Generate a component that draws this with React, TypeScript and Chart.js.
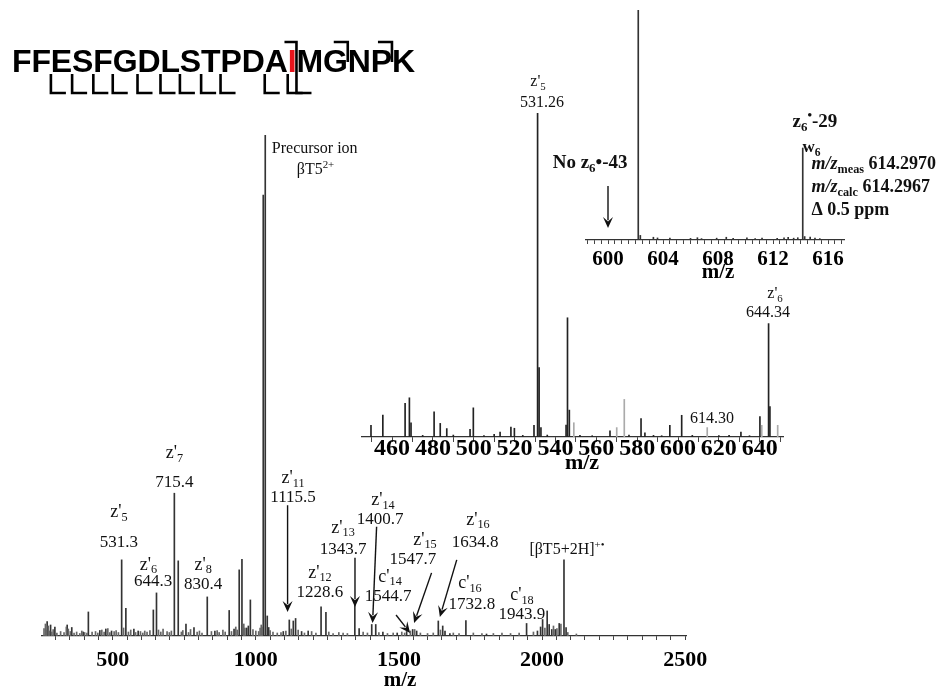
import React, { useEffect, useRef } from 'react';
import { Chart, registerables } from 'chart.js';
Chart.register(...registerables);

const SERIF = '"Liberation Serif", "Times New Roman", serif';
const SANS = '"Liberation Sans", Arial, sans-serif';

// ---------- peptide sequence ----------
const SEQUENCE = 'FFESFGDLSTPDAIMGNPK';
const RED_RESIDUE = 14; // 1-based
const Z_CLEAVAGES = [2, 3, 4, 5, 6, 7, 8, 9, 10, 12, 13]; // bottom brackets after residue n
const FULL_CLEAVAGE = 14; // both top and bottom
const C_CLEAVAGES = [16, 18]; // top brackets

// ---------- main spectrum ----------
const MAIN_MZ = [271, 283, 298, 341, 357, 397, 415, 455, 476, 496, 531.3, 546, 574, 589, 642, 653, 715.4, 729, 756, 784, 830.4, 857, 907, 924, 942, 951.6, 968, 974, 981, 1026, 1033, 1040, 1045, 1096, 1117, 1131, 1139, 1160, 1183, 1228, 1245, 1346, 1361, 1405, 1419, 1444, 1494, 1527, 1548, 1562, 1637.6, 1653, 1661, 1678, 1734, 1806, 1946, 1984, 1995, 2002, 2018, 2025, 2034, 2046, 2060, 2076.7, 2084];
const MAIN_INT = [2.9, 2.2, 1.8, 2.2, 1.7, 0.8, 4.8, 1.1, 1.4, 1.0, 15.2, 5.5, 1.4, 1.0, 5.2, 8.6, 28.5, 15.0, 2.4, 1.7, 7.8, 1.0, 5.1, 1.4, 13.2, 15.3, 1.6, 2.0, 7.2, 88, 100, 4.0, 1.7, 0.9, 3.2, 3.0, 3.5, 0.9, 1.0, 5.8, 4.7, 6.9, 1.5, 2.3, 2.3, 0.8, 0.6, 0.9, 1.3, 1.0, 3.0, 2.0, 1.0, 0.5, 3.1, 0.4, 2.5, 1.0, 1.8, 3.3, 5.0, 2.3, 1.3, 1.3, 2.5, 15.2, 1.7];
const NOISE_MZ = [260, 265, 268, 275, 279, 287, 292, 305, 318, 330, 338, 345, 352, 365, 374, 385, 392, 402, 410, 428, 440, 448, 462, 470, 483, 490, 505, 512, 520, 538, 555, 563, 580, 597, 605, 612, 620, 630, 660, 668, 676, 690, 698, 705, 740, 745, 765, 772, 795, 803, 812, 845, 865, 872, 885, 893, 915, 930, 935, 958, 962, 990, 1000, 1010, 1015, 1019, 1022, 1050, 1060, 1075, 1088, 1105, 1124, 1148, 1170, 1195, 1210, 1255, 1270, 1290, 1305, 1320, 1375, 1390, 1430, 1460, 1480, 1510, 1520, 1540, 1555, 1575, 1600, 1620, 1645, 1690, 1710, 1760, 1790, 1830, 1860, 1890, 1920, 1970, 2010, 2040, 2052, 2066, 2090, 2120];
const NOISE_INT = [1.5, 2.4, 1.2, 2.0, 1.0, 0.8, 1.3, 0.6, 0.9, 0.7, 1.8, 1.4, 0.9, 0.6, 0.8, 0.5, 1.0, 0.7, 0.6, 0.8, 0.9, 0.6, 1.2, 0.8, 1.5, 0.7, 0.9, 1.1, 0.7, 1.6, 0.8, 1.2, 0.7, 0.9, 0.6, 1.0, 0.8, 1.1, 1.2, 0.8, 1.4, 0.9, 0.7, 1.0, 0.8, 1.1, 0.7, 1.3, 0.8, 1.0, 0.6, 0.9, 1.1, 0.7, 1.2, 0.8, 0.9, 1.8, 1.2, 2.4, 1.6, 1.3, 1.0, 0.9, 1.6, 2.2, 1.8, 1.1, 0.8, 0.6, 0.7, 1.0, 1.4, 1.2, 0.6, 0.9, 0.6, 0.8, 0.5, 0.7, 0.6, 0.5, 0.8, 0.6, 0.7, 0.5, 0.6, 0.8, 0.6, 1.0, 1.3, 0.6, 0.5, 0.6, 1.2, 0.6, 0.5, 0.6, 0.5, 0.5, 0.6, 0.5, 0.6, 0.8, 1.6, 2.0, 1.5, 2.4, 0.7, 0.4];
const MAIN_TICK_LABELS = [500, 1000, 1500, 2000, 2500];

// ---------- inset 1 (440-650) ----------
const IN1_MZ = [449.7, 455.5, 466.4, 468.5, 469.3, 480.6, 483.6, 486.8, 498.2, 499.8, 512.9, 518.2, 519.9, 529.5, 531.26, 532.0, 532.9, 545.2, 545.9, 546.8, 566.7, 581.9, 583.8, 596, 601.8, 630.8, 640.1, 644.34, 645.0, 475, 490, 505, 510, 524, 536, 552, 558, 576, 588, 592, 607, 620, 625, 635];
const IN1_INT = [3.6, 6.8, 10.4, 12.1, 4.4, 7.8, 4.2, 2.6, 2.4, 9.0, 1.5, 3.1, 2.7, 3.6, 100, 21.4, 2.9, 3.7, 36.8, 8.3, 1.9, 5.7, 1.3, 3.6, 6.7, 1.5, 6.3, 35, 9.4, 0.5, 0.6, 0.4, 0.8, 0.5, 0.6, 0.5, 0.4, 0.6, 0.5, 0.4, 0.5, 0.4, 0.5, 0.4];
const IN1_LIGHT_MZ = [549, 570, 573.7, 614.3, 641, 648.8];
const IN1_LIGHT_INT = [4.4, 2.9, 11.6, 2.9, 3.6, 3.6];
const IN1_TICK_LABELS = [460, 480, 500, 520, 540, 560, 580, 600, 620, 640];

// ---------- inset 2 (598-617) ----------
const IN2_MZ = [602.2, 602.35, 603.3, 603.6, 604.5, 606, 606.5, 606.8, 607.9, 608.6, 609.1, 610.1, 610.7, 611.2, 612.3, 612.8, 613.1, 613.5, 613.8, 614.16, 614.3, 614.7, 615.05, 615.4];
const IN2_INT = [100, 2, 1.2, 0.9, 0.8, 0.7, 1.0, 0.6, 0.8, 1.2, 0.7, 0.9, 0.6, 0.8, 0.7, 0.9, 1.2, 0.8, 1.0, 40, 1.5, 1.3, 0.8, 0.6];
const IN2_TICK_LABELS = [600, 604, 608, 612, 616];

type Part = { t: string; s?: 'sub' | 'sup'; i?: boolean };
type Label = { x: number; y: number; parts: Part[]; size: number; bold?: boolean; align?: 'left' | 'center' };
type Arrow = { x1: number; y1: number; x2: number; y2: number };

const zl = (pre: string, n: string): Part[] => [{ t: pre + "'" }, { t: n, s: 'sub' }];

const MAIN_LABELS: Label[] = [
  { x: 715.4, y: 36.5, parts: zl('z', '7'), size: 18 },
  { x: 715.4, y: 30.7, parts: [{ t: '715.4' }], size: 17 },
  { x: 522, y: 24.6, parts: zl('z', '5'), size: 18 },
  { x: 522, y: 18.6, parts: [{ t: '531.3' }], size: 17 },
  { x: 625, y: 14.2, parts: zl('z', '6'), size: 18 },
  { x: 641, y: 10.8, parts: [{ t: '644.3' }], size: 17 },
  { x: 816, y: 14.2, parts: zl('z', '8'), size: 18 },
  { x: 816, y: 10.2, parts: [{ t: '830.4' }], size: 17 },
  { x: 1130, y: 31.5, parts: zl('z', '11'), size: 18 },
  { x: 1130, y: 27.7, parts: [{ t: '1115.5' }], size: 17 },
  { x: 1224, y: 12.6, parts: zl('z', '12'), size: 18 },
  { x: 1224, y: 8.6, parts: [{ t: '1228.6' }], size: 17 },
  { x: 1305, y: 21.6, parts: zl('z', '13'), size: 18 },
  { x: 1305, y: 17.2, parts: [{ t: '1343.7' }], size: 17 },
  { x: 1444, y: 27.1, parts: zl('z', '14'), size: 18 },
  { x: 1434, y: 23.2, parts: [{ t: '1400.7' }], size: 17 },
  { x: 1469, y: 11.8, parts: zl('c', '14'), size: 18 },
  { x: 1462, y: 7.8, parts: [{ t: '1544.7' }], size: 17 },
  { x: 1591, y: 19.2, parts: zl('z', '15'), size: 18 },
  { x: 1549, y: 15.2, parts: [{ t: '1547.7' }], size: 17 },
  { x: 1776, y: 23.2, parts: zl('z', '16'), size: 18 },
  { x: 1766, y: 18.6, parts: [{ t: '1634.8' }], size: 17 },
  { x: 1748, y: 10.6, parts: zl('c', '16'), size: 18 },
  { x: 1755, y: 6.2, parts: [{ t: '1732.8' }], size: 17 },
  { x: 1930, y: 8.2, parts: zl('c', '18'), size: 18 },
  { x: 1930, y: 4.2, parts: [{ t: '1943.9' }], size: 17 },
  { x: 2087, y: 17.2, parts: [{ t: '[βT5+2H]' }, { t: '+•', s: 'sup' }], size: 16 },
  { x: 1056, y: 97.2, parts: [{ t: 'Precursor ion' }], size: 16, align: 'left' },
  { x: 1143, y: 93, parts: [{ t: 'βT5' }, { t: '2+', s: 'sup' }], size: 16, align: 'left' },
];
const MAIN_ARROWS: Arrow[] = [
  { x1: 1111, y1: 26.1, x2: 1111, y2: 4.8 },
  { x1: 1346.5, y1: 15.6, x2: 1346.5, y2: 5.8 },
  { x1: 1422, y1: 21.8, x2: 1408, y2: 2.6 },
  { x1: 1490, y1: 4.2, x2: 1539, y2: 0.6 },
  { x1: 1614, y1: 12.6, x2: 1553, y2: 2.6 },
  { x1: 1702, y1: 15.2, x2: 1643, y2: 3.8 },
];

const IN1_LABELS: Label[] = [
  { x: 531.5, y: 109.6, parts: zl('z', '5'), size: 16 },
  { x: 533.4, y: 103, parts: [{ t: '531.26' }], size: 16 },
  { x: 647.5, y: 44.1, parts: zl('z', '6'), size: 16 },
  { x: 644, y: 38.3, parts: [{ t: '644.34' }], size: 16 },
  { x: 605.9, y: 5.6, parts: [{ t: '614.30' }], size: 16, align: 'left' },
];

const IN2_LABELS: Label[] = [
  { x: 598.7, y: 33.5, parts: [{ t: 'No z' }, { t: '6', s: 'sub' }, { t: '•-43' }], size: 19, bold: true },
  { x: 615.05, y: 51.3, parts: [{ t: 'z' }, { t: '6', s: 'sub' }, { t: '•', s: 'sup' }, { t: '-29' }], size: 19, bold: true },
  { x: 614.8, y: 40, parts: [{ t: 'w' }, { t: '6', s: 'sub' }], size: 17, bold: true },
  { x: 614.8, y: 33, parts: [{ t: 'm/z', i: true }, { t: 'meas', s: 'sub' }, { t: ' 614.2970' }], size: 18, bold: true, align: 'left' },
  { x: 614.8, y: 23, parts: [{ t: 'm/z', i: true }, { t: 'calc', s: 'sub' }, { t: ' 614.2967' }], size: 18, bold: true, align: 'left' },
  { x: 614.8, y: 13, parts: [{ t: 'Δ 0.5 ppm' }], size: 18, bold: true, align: 'left' },
];
const IN2_ARROWS: Arrow[] = [{ x1: 600, y1: 23.5, x2: 600, y2: 5.2 }];

function buildTicks(from: number, to: number, step: number) {
  const out: number[] = [];
  for (let v = from; v <= to + 1e-9; v += step) out.push(Math.round(v * 1000) / 1000);
  return out;
}

function fontOf(size: number, bold?: boolean, italic?: boolean) {
  return `${italic ? 'italic ' : ''}${bold ? 'bold ' : ''}${size}px ${SERIF}`;
}

function drawRich(ctx: CanvasRenderingContext2D, px: number, py: number, lab: Label) {
  const segs = lab.parts.map((p) => {
    const sz = p.s ? lab.size * 0.68 : lab.size;
    const f = fontOf(sz, lab.bold, p.i);
    ctx.font = f;
    const dy = p.s === 'sub' ? lab.size * 0.3 : p.s === 'sup' ? -lab.size * 0.32 : 0;
    return { p, f, w: ctx.measureText(p.t).width, dy };
  });
  const total = segs.reduce((a, s) => a + s.w, 0);
  let x = lab.align === 'left' ? px : px - total / 2;
  ctx.textBaseline = 'middle';
  ctx.textAlign = 'left';
  ctx.fillStyle = '#111';
  for (const s of segs) {
    ctx.font = s.f;
    ctx.fillText(s.p.t, x, py + s.dy);
    x += s.w;
  }
}

function drawArrow(ctx: CanvasRenderingContext2D, x1: number, y1: number, x2: number, y2: number) {
  const ang = Math.atan2(y2 - y1, x2 - x1);
  const L = 11, W = 5;
  ctx.strokeStyle = '#111';
  ctx.fillStyle = '#111';
  ctx.lineWidth = 1.4;
  ctx.beginPath();
  ctx.moveTo(x1, y1);
  ctx.lineTo(x2 - Math.cos(ang) * L * 0.7, y2 - Math.sin(ang) * L * 0.7);
  ctx.stroke();
  ctx.beginPath();
  ctx.moveTo(x2, y2);
  ctx.lineTo(x2 - Math.cos(ang) * L - Math.sin(ang) * W, y2 - Math.sin(ang) * L + Math.cos(ang) * W);
  ctx.lineTo(x2 - Math.cos(ang) * L * 0.6, y2 - Math.sin(ang) * L * 0.6);
  ctx.lineTo(x2 - Math.cos(ang) * L + Math.sin(ang) * W, y2 - Math.sin(ang) * L - Math.cos(ang) * W);
  ctx.closePath();
  ctx.fill();
}

function drawSequence(ctx: CanvasRenderingContext2D) {
  const startX = 12, totalW = 403, baseY = 72;
  ctx.font = `bold 32px ${SANS}`;
  const chars = SEQUENCE.split('');
  const widths = chars.map((c) => ctx.measureText(c).width);
  const natural = widths.reduce((a, b) => a + b, 0);
  const gap = (totalW - natural) / (chars.length - 1);
  const xs: number[] = [];
  let x = startX;
  for (let i = 0; i < chars.length; i++) { xs.push(x); x += widths[i] + gap; }
  ctx.textBaseline = 'alphabetic';
  ctx.textAlign = 'left';
  chars.forEach((c, i) => {
    ctx.fillStyle = i + 1 === RED_RESIDUE ? '#e8141c' : '#000';
    ctx.fillText(c, xs[i], baseY);
  });
  const bnd = (n: number) => xs[n - 1] + widths[n - 1] + gap / 2;
  ctx.strokeStyle = '#000';
  ctx.lineWidth = 2.6;
  ctx.lineCap = 'butt';
  const topY = 42, botY = 93;
  for (const n of Z_CLEAVAGES) {
    const b = bnd(n);
    ctx.beginPath();
    ctx.moveTo(b, 74); ctx.lineTo(b, botY); ctx.lineTo(b + 15, botY);
    ctx.stroke();
  }
  for (const n of C_CLEAVAGES) {
    const b = bnd(n);
    ctx.beginPath();
    ctx.moveTo(b - 14, topY); ctx.lineTo(b, topY); ctx.lineTo(b, 62);
    ctx.stroke();
  }
  {
    const b = bnd(FULL_CLEAVAGE);
    ctx.beginPath();
    ctx.moveTo(b - 12, topY); ctx.lineTo(b, topY); ctx.lineTo(b, botY); ctx.lineTo(b + 15, botY);
    ctx.stroke();
  }
}

type SpecOpts = {
  sets: { mz: number[]; int: number[]; color: string }[];
  min: number; max: number;
  ticks: number[]; labels: number[];
  padding: { left: number; right: number; top: number; bottom: number };
  tickLength: number; tickPad: number; fontSize: number;
  labelsList: Label[]; arrows: Arrow[];
  title: { x: number; dy: number; size: number };
  extra?: (ctx: CanvasRenderingContext2D) => void;
};

function makeConfig(o: SpecOpts): any {
  const plugin = {
    id: 'annotations',
    afterDraw(chart: any) {
      const ctx: CanvasRenderingContext2D = chart.ctx;
      const sx = chart.scales.x, sy = chart.scales.y;
      ctx.save();
      if (o.extra) o.extra(ctx);
      for (const a of o.arrows) {
        drawArrow(ctx, sx.getPixelForValue(a.x1), sy.getPixelForValue(a.y1), sx.getPixelForValue(a.x2), sy.getPixelForValue(a.y2));
      }
      for (const l of o.labelsList) drawRich(ctx, sx.getPixelForValue(l.x), sy.getPixelForValue(l.y), l);
      ctx.font = `bold ${o.title.size}px ${SERIF}`;
      ctx.fillStyle = '#000';
      ctx.textAlign = 'center';
      ctx.textBaseline = 'middle';
      ctx.fillText('m/z', sx.getPixelForValue(o.title.x), chart.chartArea.bottom + o.title.dy);
      ctx.restore();
    },
  };
  return {
    type: 'bar',
    data: {
      datasets: o.sets.map((s) => ({
        data: s.mz.map((x, i) => ({ x, y: s.int[i] })),
        backgroundColor: s.color,
        borderWidth: 0,
        barThickness: 1,
        grouped: false,
      })),
    },
    options: {
      animation: false,
      responsive: false,
      maintainAspectRatio: false,
      events: [],
      layout: { padding: o.padding },
      plugins: { legend: { display: false }, tooltip: { enabled: false }, title: { display: false } },
      scales: {
        x: {
          type: 'linear',
          min: o.min,
          max: o.max,
          offset: false,
          afterBuildTicks: (ax: any) => { ax.ticks = o.ticks.map((v) => ({ value: v })); },
          afterFit: (ax: any) => { ax.height = 30; },
          grid: { display: true, drawOnChartArea: false, drawTicks: true, tickLength: o.tickLength, color: '#444', lineWidth: 1, offset: false },
          border: { display: true, color: '#333', width: 1.2 },
          ticks: {
            autoSkip: false,
            maxRotation: 0,
            minRotation: 0,
            padding: o.tickPad,
            color: '#000',
            font: { family: SERIF, size: o.fontSize, weight: 'bold' },
            callback: (v: number) => (o.labels.some((l) => Math.abs(l - v) < 1e-6) ? String(v) : ''),
          },
        },
        y: { display: false, min: 0, max: 100 },
      },
    },
    plugins: [plugin],
  };
}

const mainConfig = () =>
  makeConfig({
    sets: [
      { mz: NOISE_MZ, int: NOISE_INT, color: '#666' },
      { mz: MAIN_MZ, int: MAIN_INT, color: '#333' },
    ],
    min: 253, max: 2503,
    ticks: buildTicks(300, 2500, 50), labels: MAIN_TICK_LABELS,
    padding: { left: 42, right: 259, top: 135, bottom: 24 },
    tickLength: 4, tickPad: 7, fontSize: 22,
    labelsList: MAIN_LABELS, arrows: MAIN_ARROWS,
    title: { x: 1504, dy: 45, size: 21 },
    extra: drawSequence,
  });

const inset1Config = () =>
  makeConfig({
    sets: [
      { mz: IN1_LIGHT_MZ, int: IN1_LIGHT_INT, color: '#aaa' },
      { mz: IN1_MZ, int: IN1_INT, color: '#222' },
    ],
    min: 445.3, max: 651.4,
    ticks: buildTicks(450, 650, 10), labels: IN1_TICK_LABELS,
    padding: { left: 362, right: 162, top: 113, bottom: 223 },
    tickLength: 5, tickPad: -8, fontSize: 24,
    labelsList: IN1_LABELS, arrows: [],
    title: { x: 553, dy: 26, size: 22 },
  });

const inset2Config = () =>
  makeConfig({
    sets: [{ mz: IN2_MZ, int: IN2_INT, color: '#333' }],
    min: 598.4, max: 617.16,
    ticks: buildTicks(598.5, 617, 0.5), labels: IN2_TICK_LABELS,
    padding: { left: 586, right: 101, top: 10, bottom: 420 },
    tickLength: 4, tickPad: 3, fontSize: 21,
    labelsList: IN2_LABELS, arrows: IN2_ARROWS,
    title: { x: 608, dy: 33, size: 21 },
  });

function ChartLayer({ make }: { make: () => any }) {
  const ref = useRef<HTMLCanvasElement | null>(null);
  useEffect(() => {
    if (!ref.current) return;
    const c = new Chart(ref.current, make());
    return () => c.destroy();
  }, []);
  return (
    <canvas
      ref={ref}
      width={945}
      height={690}
      style={{ position: 'absolute', left: 0, top: 0, width: 945, height: 690 }}
    />
  );
}

export default function App() {
  return (
    <div style={{ position: 'fixed', left: 0, top: 0, width: 945, height: 690, background: '#fff', overflow: 'hidden' }}>
      <ChartLayer make={mainConfig} />
      <ChartLayer make={inset1Config} />
      <ChartLayer make={inset2Config} />
    </div>
  );
}
